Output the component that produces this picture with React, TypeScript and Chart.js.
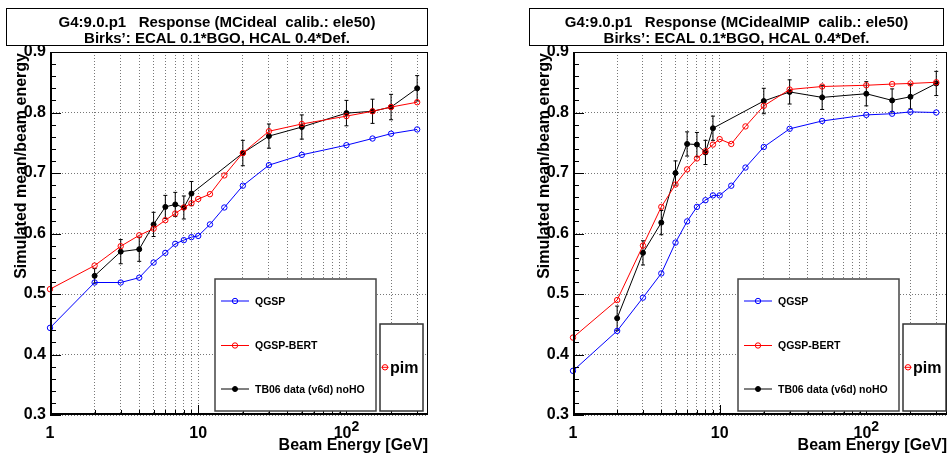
import React, { useEffect, useRef } from 'react';
import { Chart, registerables } from 'chart.js';

Chart.register(...registerables);

const FONT = '"Liberation Sans", Arial, Helvetica, sans-serif';
const BLUE = '#0000ff';
const RED = '#ff0000';
const GRID = '#777777';

// Beam energies (GeV)
const X_SIM = [1, 2, 3, 4, 5, 6, 7, 8, 9, 10, 12, 15, 20, 30, 50, 100, 150, 200, 300];
const X_DATA = [2, 3, 4, 5, 6, 7, 8, 9, 20, 30, 50, 100, 150, 200, 300];

// Axis ticks / labels
const X_MIN = 1;
const X_MAX = 355;
const X_GRID = [1, 2, 3, 4, 5, 6, 7, 8, 9, 10, 20, 30, 40, 50, 60, 70, 80, 90, 100, 200, 300];
const X_MAJOR = [1, 10, 100];
const X_LABEL_BASE = ['1', '10', '10'];
const X_LABEL_SUP = ['', '', '2'];
const Y_MIN = 0.3;
const Y_MAX = 0.9;
const Y_TICKS = [0.3, 0.4, 0.5, 0.6, 0.7, 0.8, 0.9];
const Y_MINOR_STEP = 0.02;

// Left panel: MCideal
const QGSP_L = [0.444, 0.519, 0.519, 0.527, 0.552, 0.568, 0.583, 0.589, 0.594, 0.596, 0.615, 0.643, 0.679, 0.713, 0.730, 0.746, 0.757, 0.765, 0.772];
const BERT_L = [0.508, 0.547, 0.579, 0.597, 0.608, 0.622, 0.633, 0.643, 0.650, 0.657, 0.665, 0.696, 0.733, 0.769, 0.781, 0.794, 0.802, 0.809, 0.817];
const DATA_L = [0.530, 0.570, 0.574, 0.615, 0.644, 0.648, 0.643, 0.666, 0.733, 0.761, 0.776, 0.799, 0.802, 0.809, 0.840];
const ERR_L = [0.012, 0.020, 0.020, 0.020, 0.019, 0.020, 0.019, 0.020, 0.021, 0.020, 0.020, 0.021, 0.020, 0.021, 0.021];

// Right panel: MCidealMIP
const QGSP_R = [0.373, 0.439, 0.494, 0.534, 0.585, 0.620, 0.644, 0.655, 0.663, 0.663, 0.679, 0.709, 0.743, 0.773, 0.786, 0.796, 0.798, 0.801, 0.800];
const BERT_R = [0.428, 0.490, 0.580, 0.644, 0.681, 0.706, 0.724, 0.736, 0.747, 0.756, 0.748, 0.777, 0.811, 0.838, 0.843, 0.845, 0.847, 0.848, 0.850];
const DATA_R = [0.460, 0.568, 0.618, 0.700, 0.748, 0.747, 0.734, 0.774, 0.819, 0.834, 0.825, 0.831, 0.820, 0.826, 0.848];
const ERR_R = [0.020, 0.020, 0.020, 0.020, 0.020, 0.020, 0.020, 0.020, 0.021, 0.020, 0.020, 0.020, 0.019, 0.020, 0.020];

const SERIES_NAMES = ['QGSP', 'QGSP-BERT', 'TB06 data (v6d) noHO'];
const PARTICLE = 'pim';
const TITLE_2 = "Birks\u2019: ECAL 0.1*BGO, HCAL 0.4*Def.";
const Y_TITLE = 'Simulated mean/beam energy';
const X_TITLE = 'Beam Energy [GeV]';

type PanelCfg = {
  title1: string;
  qgsp: number[];
  bert: number[];
  data: number[];
  err: number[];
  yAxisWidth: number;
  padRight: number;
  titleRightInset: number;
};

const LEFT_CFG: PanelCfg = {
  title1: 'G4:9.0.p1   Response (MCideal  calib.: ele50)',
  qgsp: QGSP_L, bert: BERT_L, data: DATA_L, err: ERR_L,
  yAxisWidth: 50, padRight: 48, titleRightInset: 0,
};
const RIGHT_CFG: PanelCfg = {
  title1: 'G4:9.0.p1   Response (MCidealMIP  calib.: ele50)',
  qgsp: QGSP_R, bert: BERT_R, data: DATA_R, err: ERR_R,
  yAxisWidth: 97, padRight: 1, titleRightInset: 3,
};

function font(size: number) {
  return `bold ${size}px ${FONT}`;
}

function drawMarker(ctx: CanvasRenderingContext2D, x: number, y: number, color: string, filled: boolean) {
  ctx.beginPath();
  ctx.arc(x, y, filled ? 2.5 : 2.7, 0, Math.PI * 2);
  ctx.lineWidth = 1;
  ctx.strokeStyle = color;
  if (filled) {
    ctx.fillStyle = color;
    ctx.fill();
  }
  ctx.stroke();
}

function makePlugin(cfg: PanelCfg) {
  return {
    id: 'panelDecor',
    beforeDraw(chart: any) {
      const ctx = chart.ctx;
      ctx.save();
      ctx.fillStyle = '#ffffff';
      ctx.fillRect(0, 0, chart.width, chart.height);
      ctx.restore();
    },
    beforeDatasetsDraw(chart: any) {
      const ctx = chart.ctx;
      const xs = chart.scales.x;
      const ys = chart.scales.y;
      ctx.save();
      ctx.strokeStyle = '#000';
      ctx.lineWidth = 1;
      X_DATA.forEach((xv, i) => {
        const px = xs.getPixelForValue(xv);
        const y1 = ys.getPixelForValue(cfg.data[i] - cfg.err[i]);
        const y2 = ys.getPixelForValue(cfg.data[i] + cfg.err[i]);
        ctx.beginPath();
        ctx.moveTo(px, y1);
        ctx.lineTo(px, y2);
        ctx.moveTo(px - 2, y1);
        ctx.lineTo(px + 2, y1);
        ctx.moveTo(px - 2, y2);
        ctx.lineTo(px + 2, y2);
        ctx.stroke();
      });
      ctx.restore();
    },
    afterDraw(chart: any) {
      const ctx: CanvasRenderingContext2D = chart.ctx;
      const { left, right, top, bottom } = chart.chartArea;
      const xs = chart.scales.x;
      const ys = chart.scales.y;
      ctx.save();

      // frame
      ctx.strokeStyle = '#000';
      ctx.lineWidth = 1;
      ctx.strokeRect(left + 0.5, top + 0.5, right - left - 1, bottom - top - 1);
      ctx.lineWidth = 2;
      ctx.beginPath();
      ctx.moveTo(left + 1, top);
      ctx.lineTo(left + 1, bottom);
      ctx.moveTo(left, bottom - 1);
      ctx.lineTo(right, bottom - 1);
      ctx.stroke();

      // y ticks (inside)
      ctx.lineWidth = 1;
      ctx.beginPath();
      const nMinor = Math.round((Y_MAX - Y_MIN) / Y_MINOR_STEP);
      for (let k = 0; k <= nMinor; k++) {
        const v = Y_MIN + k * Y_MINOR_STEP;
        const py = Math.round(ys.getPixelForValue(v)) + 0.5;
        const len = k % 5 === 0 ? 11 : 6;
        ctx.moveTo(left, py);
        ctx.lineTo(left + len, py);
      }
      // x ticks (inside)
      X_GRID.forEach((v) => {
        const px = Math.round(xs.getPixelForValue(v)) + 0.5;
        const len = X_MAJOR.includes(v) ? 10 : 5;
        ctx.moveTo(px, bottom);
        ctx.lineTo(px, bottom - len);
      });
      ctx.stroke();

      // x tick labels
      ctx.fillStyle = '#000';
      ctx.textBaseline = 'alphabetic';
      X_MAJOR.forEach((v, i) => {
        const px = xs.getPixelForValue(v);
        ctx.font = font(16);
        const wBase = ctx.measureText(X_LABEL_BASE[i]).width;
        ctx.font = font(14);
        const wSup = X_LABEL_SUP[i] ? ctx.measureText(X_LABEL_SUP[i]).width : 0;
        const x0 = px - (wBase + wSup) / 2;
        ctx.textAlign = 'left';
        ctx.font = font(16);
        ctx.fillText(X_LABEL_BASE[i], x0, 438);
        if (X_LABEL_SUP[i]) {
          ctx.font = font(14);
          ctx.fillText(X_LABEL_SUP[i], x0 + wBase, 431);
        }
      });

      // axis titles
      ctx.font = font(16);
      ctx.textAlign = 'right';
      ctx.fillText(X_TITLE, right, 450);
      ctx.save();
      ctx.translate(left - 24.5, top + 1);
      ctx.rotate(-Math.PI / 2);
      ctx.textAlign = 'right';
      ctx.fillText(Y_TITLE, 0, 0);
      ctx.restore();

      // title box
      const bx0 = left - 44;
      const bx1 = right - cfg.titleRightInset;
      ctx.fillStyle = '#fff';
      ctx.fillRect(bx0, 8, bx1 - bx0, 38);
      ctx.strokeStyle = '#000';
      ctx.lineWidth = 1;
      ctx.strokeRect(bx0 + 0.5, 8.5, bx1 - bx0 - 1, 37);
      ctx.fillStyle = '#000';
      ctx.textAlign = 'center';
      ctx.font = font(15);
      const bcx = (bx0 + bx1) / 2;
      ctx.fillText(cfg.title1, bcx, 27);
      ctx.fillText(TITLE_2, bcx, 43);

      // legend box
      const lx0 = left + 165;
      const lx1 = left + 326;
      const ly0 = 279;
      const ly1 = 411;
      ctx.fillStyle = '#fff';
      ctx.fillRect(lx0, ly0, lx1 - lx0, ly1 - ly0);
      ctx.strokeStyle = '#444';
      ctx.lineWidth = 1.5;
      ctx.strokeRect(lx0, ly0, lx1 - lx0, ly1 - ly0);
      const colors = [BLUE, RED, '#000'];
      const rowY = [301, 345.5, 389];
      const textY = [305, 349.3, 392.5];
      SERIES_NAMES.forEach((name, i) => {
        ctx.strokeStyle = colors[i];
        ctx.lineWidth = 1;
        ctx.beginPath();
        ctx.moveTo(left + 171, rowY[i]);
        ctx.lineTo(left + 199, rowY[i]);
        ctx.stroke();
        drawMarker(ctx, left + 185, rowY[i], colors[i], i === 2);
        ctx.fillStyle = '#000';
        ctx.textAlign = 'left';
        ctx.font = font(10.5);
        ctx.fillText(name, left + 205, textY[i]);
      });

      // particle box
      const px0 = left + 330;
      const px1 = left + 373;
      const py0 = 324;
      ctx.fillStyle = '#fff';
      ctx.fillRect(px0, py0, px1 - px0, ly1 - py0);
      ctx.strokeStyle = '#333';
      ctx.lineWidth = 1.5;
      ctx.strokeRect(px0, py0, px1 - px0, ly1 - py0);
      ctx.strokeStyle = RED;
      ctx.lineWidth = 1;
      ctx.beginPath();
      ctx.moveTo(left + 331.5, 367.3);
      ctx.lineTo(left + 338.5, 367.3);
      ctx.stroke();
      drawMarker(ctx, left + 335, 367.3, RED, false);
      ctx.fillStyle = '#000';
      ctx.textAlign = 'left';
      ctx.font = font(16);
      ctx.fillText(PARTICLE, left + 340, 373);

      ctx.restore();
    },
  };
}

function buildChart(canvas: HTMLCanvasElement, cfg: PanelCfg) {
  const pts = (xs: number[], ys: number[]) => xs.map((x, i) => ({ x, y: ys[i] }));
  const openSeries = (label: string, data: number[], color: string) => ({
    label,
    data: pts(X_SIM, data),
    borderColor: color,
    borderWidth: 1,
    pointRadius: 2.7,
    pointBorderWidth: 1,
    pointBorderColor: color,
    pointBackgroundColor: 'rgba(255,255,255,0)',
    tension: 0,
    fill: false,
    clip: false,
  });
  return new Chart(canvas, {
    type: 'line',
    data: {
      datasets: [
        openSeries(SERIES_NAMES[0], cfg.qgsp, BLUE),
        openSeries(SERIES_NAMES[1], cfg.bert, RED),
        {
          label: SERIES_NAMES[2],
          data: pts(X_DATA, cfg.data),
          borderColor: '#000',
          borderWidth: 1,
          pointRadius: 2.5,
          pointBorderWidth: 1,
          pointBorderColor: '#000',
          pointBackgroundColor: '#000',
          tension: 0,
          fill: false,
          clip: false,
        },
      ],
    },
    options: {
      animation: false,
      responsive: false,
      maintainAspectRatio: false,
      layout: { padding: { left: 0, right: cfg.padRight, top: 52, bottom: 0 } },
      plugins: {
        legend: { display: false },
        tooltip: { enabled: false },
        title: { display: false },
      },
      scales: {
        x: {
          type: 'logarithmic',
          min: X_MIN,
          max: X_MAX,
          afterBuildTicks: (s: any) => {
            s.ticks = X_GRID.map((v) => ({ value: v }));
          },
          afterFit: (s: any) => {
            s.height = 40;
          },
          ticks: { display: false, autoSkip: false },
          grid: { color: GRID, lineWidth: 1, drawTicks: false },
          border: { display: false, dash: [1, 2] },
        },
        y: {
          type: 'linear',
          min: Y_MIN,
          max: Y_MAX,
          afterBuildTicks: (s: any) => {
            s.ticks = Y_TICKS.map((v) => ({ value: v }));
          },
          afterFit: (s: any) => {
            s.width = cfg.yAxisWidth;
          },
          ticks: {
            padding: 4,
            color: '#000',
            font: { family: FONT, size: 16, weight: 'bold' },
            callback: (v: any) => Number(v).toFixed(1),
          },
          grid: { color: GRID, lineWidth: 1, drawTicks: false },
          border: { display: false, dash: [1, 2] },
        },
      },
    } as any,
    plugins: [makePlugin(cfg)],
  });
}

export default function App() {
  const leftRef = useRef<HTMLCanvasElement>(null);
  const rightRef = useRef<HTMLCanvasElement>(null);
  useEffect(() => {
    document.body.style.margin = '0';
    const charts = [buildChart(leftRef.current!, LEFT_CFG), buildChart(rightRef.current!, RIGHT_CFG)];
    return () => charts.forEach((c) => c.destroy());
  }, []);
  return (
    <div style={{ position: 'relative', width: 952, height: 455, background: '#fff' }}>
      <canvas ref={leftRef} width={476} height={455} style={{ position: 'absolute', left: 0, top: 0, width: 476, height: 455 }} />
      <canvas ref={rightRef} width={476} height={455} style={{ position: 'absolute', left: 476, top: 0, width: 476, height: 455 }} />
    </div>
  );
}
